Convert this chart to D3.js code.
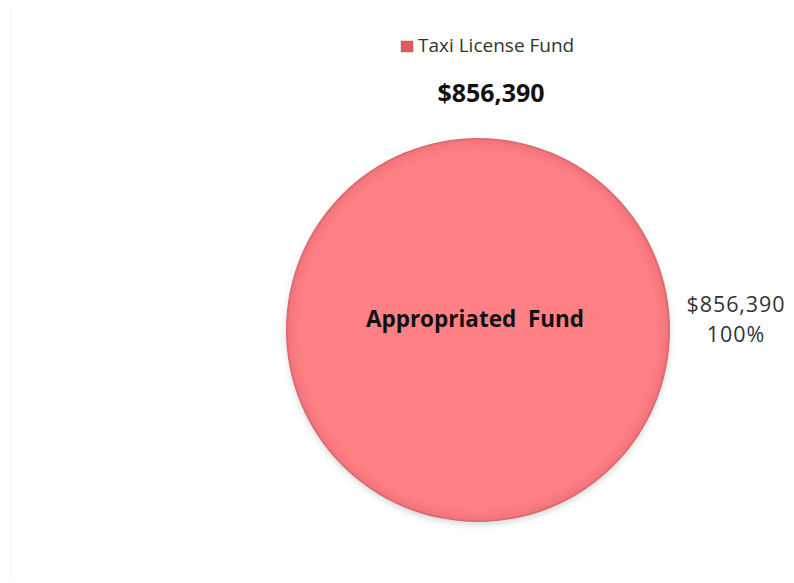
<!DOCTYPE html>
<html>
<head>
<meta charset="utf-8">
<script src="https://cdn.jsdelivr.net/npm/d3@7"></script>
<style>
  html, body { margin: 0; padding: 0; background: #fff; }
  svg { display: block; font-family: "Open Sans", Lato, sans-serif; }
</style>
</head>
<body>
<div id="chart"></div>
<script>
// Chart data
const seriesName = "Taxi License Fund";
const categories = ["Appropriated  Fund"];
const values = [856390];
const totalLabel = "$856,390";

const width = 794;
const height = 583;
const cx = 478, cy = 330, radius = 192;

const fmt = d3.format("$,");
const pct = d3.format(".0%");
const total = d3.sum(values);

const svg = d3.select("#chart")
  .append("svg")
  .attr("width", width)
  .attr("height", height)
  .attr("viewBox", [0, 0, width, height]);

const defs = svg.append("defs");

// Soft bevel shading on the slice
const grad = defs.append("radialGradient")
  .attr("id", "sliceFill")
  .attr("cx", "50%").attr("cy", "50%").attr("r", "50%");
grad.append("stop").attr("offset", "0%").attr("stop-color", "#ff8185");
grad.append("stop").attr("offset", "93%").attr("stop-color", "#fe8084");
grad.append("stop").attr("offset", "98.5%").attr("stop-color", "#f4767d");
grad.append("stop").attr("offset", "100%").attr("stop-color", "#d5626a");

const shadow = defs.append("filter")
  .attr("id", "shadow")
  .attr("x", "-20%").attr("y", "-20%").attr("width", "140%").attr("height", "140%");
shadow.append("feDropShadow")
  .attr("dx", 0).attr("dy", 3)
  .attr("stdDeviation", 3)
  .attr("flood-color", "#7a8a8a")
  .attr("flood-opacity", 0.3);

// faint frame line on the left
svg.append("line")
  .attr("x1", 10.5).attr("x2", 10.5)
  .attr("y1", 7).attr("y2", 578)
  .attr("stroke", "#f2f2f2");

// Legend
const legend = svg.append("g").attr("transform", "translate(401,41)");
legend.append("rect")
  .attr("width", 12).attr("height", 11)
  .attr("fill", "#dd5a63")
  .attr("stroke", "#c9575f")
  .attr("stroke-width", 0.5);
legend.append("text")
  .attr("x", 17).attr("y", 11)
  .attr("font-size", 19)
  .attr("fill", "#333")
  .text(seriesName);

// Title
svg.append("text")
  .attr("x", 491).attr("y", 102)
  .attr("text-anchor", "middle")
  .attr("font-size", 25)
  .attr("font-weight", "bold")
  .attr("fill", "#111")
  .text(totalLabel);

// Pie
const pie = d3.pie().sort(null).startAngle(0).endAngle(2 * Math.PI);
const arc = d3.arc().innerRadius(0).outerRadius(radius);
const arcs = pie(values);

const g = svg.append("g").attr("transform", `translate(${cx},${cy})`);
g.selectAll("path")
  .data(arcs)
  .join("path")
  .attr("d", arc)
  .attr("fill", "url(#sliceFill)")
  .attr("filter", "url(#shadow)");

// Slice name inside
g.selectAll("text.name")
  .data(arcs)
  .join("text")
  .attr("class", "name")
  .attr("x", -3).attr("y", -3)
  .attr("text-anchor", "middle")
  .attr("font-size", 22.5)
  .attr("font-weight", "bold")
  .attr("fill", "#111")
  .style("white-space", "pre")
  .text((d, i) => categories[i]);

// Value + percent outside, right side
const lbl = svg.append("g").selectAll("text.value")
  .data(arcs)
  .join("text")
  .attr("class", "value")
  .attr("text-anchor", "middle")
  .attr("font-size", 21.5)
  .attr("letter-spacing", 0.9)
  .attr("fill", "#333");
lbl.append("tspan").attr("x", 736).attr("y", 312).text(d => fmt(d.value));
lbl.append("tspan").attr("x", 736).attr("y", 342).text(d => pct(d.value / total));
</script>
</body>
</html>
